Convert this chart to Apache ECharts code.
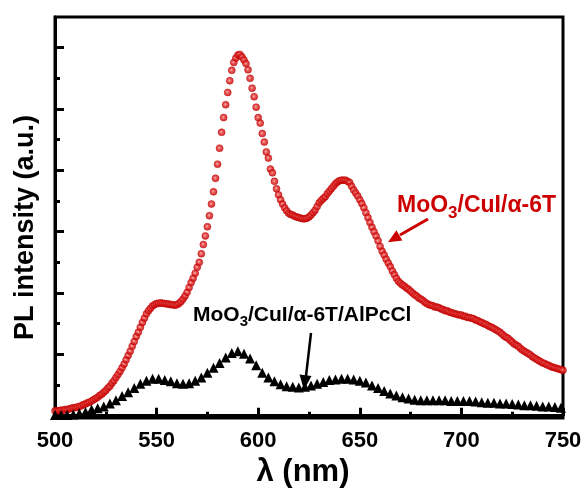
<!DOCTYPE html>
<html>
<head>
<meta charset="utf-8">
<script src="https://cdn.jsdelivr.net/npm/echarts@6/dist/echarts.min.js"></script>
<style>
html,body{margin:0;padding:0;background:#fff;}
#chart{width:586px;height:493px;}
</style>
</head>
<body>
<div id="chart"></div>
<script>
// Wavelengths (nm)
const redStart = 500, redStep = 1;
const blackStart = 500, blackStep = 3;
// MoO3/CuI/α-6T  (1 nm step, 500..750)
const redValues = [
0.08,0.08,0.08,0.09,0.09,0.10,0.10,0.11,0.12,0.13,
0.13,0.14,0.15,0.16,0.18,0.19,0.21,0.22,0.24,0.26,
0.28,0.30,0.33,0.35,0.38,0.41,0.45,0.48,0.53,0.57,
0.62,0.67,0.72,0.78,0.84,0.91,0.98,1.05,1.13,1.21,
1.29,1.36,1.44,1.52,1.59,1.66,1.71,1.75,1.79,1.81,
1.83,1.83,1.84,1.83,1.83,1.82,1.82,1.81,1.81,1.80,
1.81,1.83,1.86,1.90,1.95,2.01,2.09,2.17,2.24,2.32,
2.42,2.50,2.64,2.79,2.93,3.08,3.26,3.45,3.65,3.87,
4.10,4.36,4.62,4.86,5.07,5.27,5.46,5.63,5.76,5.83,
5.88,5.89,5.85,5.80,5.74,5.64,5.50,5.34,5.20,5.03,
4.86,4.77,4.60,4.46,4.30,4.20,4.02,3.96,3.82,3.70,
3.60,3.52,3.45,3.39,3.34,3.30,3.28,3.27,3.25,3.24,
3.23,3.22,3.21,3.21,3.22,3.24,3.27,3.31,3.35,3.41,
3.47,3.51,3.54,3.57,3.62,3.66,3.70,3.74,3.78,3.81,
3.83,3.84,3.84,3.84,3.82,3.80,3.74,3.68,3.63,3.58,
3.52,3.46,3.39,3.31,3.23,3.15,3.07,3.00,2.93,2.85,
2.76,2.68,2.62,2.55,2.49,2.43,2.36,2.30,2.24,2.19,
2.16,2.13,2.11,2.08,2.06,2.03,2.00,1.97,1.95,1.92,
1.90,1.88,1.85,1.83,1.81,1.80,1.79,1.77,1.77,1.76,
1.74,1.73,1.71,1.71,1.69,1.68,1.67,1.66,1.65,1.64,
1.64,1.62,1.62,1.60,1.60,1.59,1.58,1.56,1.55,1.53,
1.52,1.50,1.49,1.47,1.45,1.44,1.42,1.40,1.38,1.36,
1.33,1.30,1.28,1.26,1.23,1.20,1.17,1.15,1.13,1.10,
1.07,1.05,1.03,1.01,0.99,0.96,0.94,0.92,0.90,0.88,
0.86,0.85,0.83,0.82,0.80,0.79,0.78,0.77,0.76,0.75,
0.74
];
// MoO3/CuI/α-6T/AlPcCl  (3 nm step, 500..749)
const blackValues = [
0.01,0.01,0.01,0.02,0.04,0.06,0.10,0.12,0.15,0.20,
0.25,0.32,0.38,0.45,0.52,0.57,0.60,0.60,0.58,0.56,
0.53,0.52,0.53,0.57,0.62,0.70,0.78,0.86,0.95,1.02,
1.05,1.01,0.93,0.82,0.70,0.62,0.56,0.51,0.48,0.47,
0.46,0.47,0.49,0.52,0.55,0.58,0.59,0.60,0.60,0.59,
0.57,0.54,0.49,0.45,0.40,0.36,0.33,0.30,0.28,0.26,
0.25,0.25,0.25,0.25,0.25,0.24,0.24,0.24,0.24,0.23,
0.22,0.21,0.21,0.20,0.20,0.19,0.18,0.17,0.17,0.16,
0.15,0.15,0.14,0.13
];
const xTicks = [500, 550, 600, 650, 700, 750];
const yMajorTicks = [0, 1, 2, 3, 4, 5, 6];
const yMinorTicks = [0.5, 1.5, 2.5, 3.5, 4.5, 5.5];
const redLabel = ['MoO', '3', '/CuI/α-6T'];
const blackLabel = ['MoO', '3', '/CuI/α-6T/AlPcCl'];

const redData = redValues.map((v, i) => [redStart + i * redStep, v]);
const blackData = blackValues.map((v, i) => [blackStart + i * blackStep, v]);

const FONT = '"Liberation Sans", Arial, sans-serif';
const ctx = document.createElement('canvas').getContext('2d');
function textWidth(t, size) { ctx.font = 'bold ' + size + 'px ' + FONT; return ctx.measureText(t).width; }

// label with subscript: [main, sub, rest], left x, baseline y
function subLabel(parts, x, baseline, size, subSize, subDrop, color) {
  const w0 = textWidth(parts[0], size), w1 = textWidth(parts[1], subSize);
  const base = {fontFamily: FONT, fontWeight: 'bold', fill: color, verticalAlign: 'middle', align: 'left'};
  return [
    {type: 'text', x: x, y: baseline - 0.35 * size, style: Object.assign({}, base, {text: parts[0], fontSize: size})},
    {type: 'text', x: x + w0, y: baseline + subDrop - 0.35 * subSize, style: Object.assign({}, base, {text: parts[1], fontSize: subSize})},
    {type: 'text', x: x + w0 + w1, y: baseline - 0.35 * size, style: Object.assign({}, base, {text: parts[2], fontSize: size})}
  ];
}

const chart = echarts.init(document.getElementById('chart'), null, {renderer: 'canvas'});

const option = {
  animation: false,
  backgroundColor: '#fff',
  grid: {left: 55, right: 23, top: 17, bottom: 68.5, show: true, borderColor: '#000', borderWidth: 3, backgroundColor: 'transparent'},
  xAxis: {
    type: 'value', min: xTicks[0], max: xTicks[xTicks.length - 1], interval: 50,
    name: 'λ (nm)', nameLocation: 'middle', nameGap: 38,
    nameTextStyle: {fontFamily: FONT, fontWeight: 'bold', fontSize: 31, color: '#000', padding: [0, 12, 0, 0]},
    axisLine: {lineStyle: {color: '#000', width: 3}},
    axisTick: {inside: true, length: 8, lineStyle: {color: '#000', width: 3}},
    minorTick: {show: true, splitNumber: 2, length: 4, lineStyle: {color: '#000', width: 3}},
    axisLabel: {fontFamily: FONT, fontWeight: 'bold', fontSize: 22, color: '#000', margin: 12},
    splitLine: {show: false}
  },
  yAxis: [{
    type: 'value', min: -0.04, max: 6.5,
    name: 'PL intensity (a.u.)', nameLocation: 'middle', nameGap: 16,
    nameTextStyle: {fontFamily: FONT, fontWeight: 'bold', fontSize: 27, color: '#000', padding: [0, 20, 0, 0]},
    axisLine: {lineStyle: {color: '#000', width: 3}},
    axisTick: {inside: true, length: 9, customValues: yMajorTicks, lineStyle: {color: '#000', width: 3}},
    axisLabel: {show: false, customValues: yMajorTicks},
    splitLine: {show: false}
  }, {
    type: 'value', min: -0.04, max: 6.5, position: 'left',
    axisLine: {show: false},
    axisTick: {show: true, inside: true, length: 5, customValues: yMinorTicks, lineStyle: {color: '#000', width: 3}},
    axisLabel: {show: false, customValues: yMinorTicks},
    splitLine: {show: false}
  }],
  series: [{
    type: 'scatter', name: 'MoO3/CuI/α-6T', data: redData, yAxisIndex: 0,
    symbol: 'circle', symbolSize: 7,
    itemStyle: {
      color: {type: 'radial', x: 0.45, y: 0.45, r: 0.55, colorStops: [
        {offset: 0, color: '#f7a8a8'}, {offset: 0.4, color: '#e02828'}, {offset: 1, color: '#c40000'}]},
      borderColor: '#bb0000', borderWidth: 0.6
    }
  }, {
    type: 'scatter', name: 'MoO3/CuI/α-6T/AlPcCl', data: blackData, yAxisIndex: 0,
    symbol: 'triangle', symbolSize: 10,
    itemStyle: {color: '#000', opacity: 1}
  }],
  graphic: [].concat(
    subLabel(redLabel, 397, 214, 23, 17, 5, '#cc0000'),
    subLabel(blackLabel, 193, 323, 21, 15, 4, '#000'),
    [
      {type: 'line', shape: {x1: 428, y1: 219, x2: 400, y2: 235}, style: {stroke: '#cc0000', lineWidth: 3}},
      {type: 'polygon', shape: {points: [[388, 242.3], [396.4, 230.2], [402.4, 240.6]]}, style: {fill: '#cc0000'}},
      {type: 'line', shape: {x1: 311, y1: 333, x2: 306, y2: 376}, style: {stroke: '#000', lineWidth: 2.5}},
      {type: 'polygon', shape: {points: [[304, 390], [299.5, 374.5], [311.5, 376]]}, style: {fill: '#000'}}
    ]
  )
};
chart.setOption(option);
</script>
</body>
</html>
